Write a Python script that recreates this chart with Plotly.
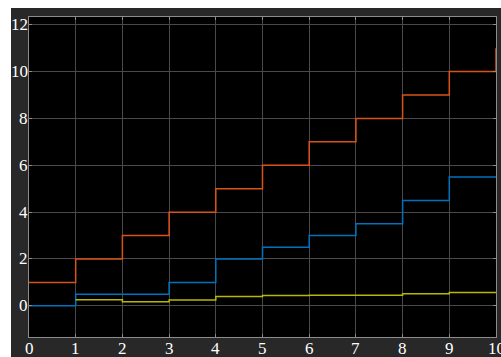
import plotly.graph_objects as go

x = list(range(11))
red_vals = [1, 2, 3, 4, 5, 6, 7, 8, 9, 10, 11]
blue_vals = [0, 0.5, 0.5, 1, 2, 2.5, 3, 3.5, 4.5, 5.5, 5.5]
yellow_vals = [None, 0.26, 0.18, 0.25, 0.4, 0.44, 0.45, 0.45, 0.52, 0.57, 0.57]
x_ticks = list(range(11))
y_ticks = [0, 2, 4, 6, 8, 10, 12]

W, H = 501, 357
L, R, T, B = 29, 5, 17, 20
pw, ph = W - L - R, H - T - B
label_font = dict(family="Liberation Serif", size=17, color="#ffffff")

fig = go.Figure()
fig.add_trace(go.Scatter(x=x, y=red_vals, mode="lines", line=dict(shape="hv", color="#D95319", width=1.5)))
fig.add_trace(go.Scatter(x=x, y=blue_vals, mode="lines", line=dict(shape="hv", color="#0072BD", width=1.5)))
fig.add_trace(go.Scatter(x=x, y=yellow_vals, mode="lines", line=dict(shape="hv", color="#B8B800", width=1.5)))

axis_common = dict(
    showgrid=True, gridcolor="#4a4a4a", gridwidth=1, zeroline=False,
    showline=True, linecolor="#8c8c8c", linewidth=1, mirror="ticks",
    ticks="inside", ticklen=3, tickcolor="#8c8c8c",
    showticklabels=False, automargin=False,
)

annotations = []
for t in x_ticks:
    annotations.append(dict(x=t, xref="x", y=0, yref="paper", yanchor="top", xanchor="center",
                            yshift=0, text=str(t), showarrow=False, font=label_font))
for t in y_ticks:
    annotations.append(dict(x=0, xref="paper", y=t, yref="y", xanchor="right", yanchor="middle",
                            xshift=1, text=str(t), showarrow=False, font=label_font))

fig.update_layout(
    width=W, height=H,
    margin=dict(l=L, r=R, t=T, b=B, pad=0, autoexpand=False),
    paper_bgcolor="#282828", plot_bgcolor="#000000",
    showlegend=False,
    xaxis=dict(range=[0, 10], tickvals=x_ticks, **axis_common),
    yaxis=dict(range=[-1.33, 12.33], tickvals=y_ticks, **axis_common),
    annotations=annotations,
    shapes=[
        dict(type="rect", xref="paper", yref="paper", layer="below",
             x0=-L / pw, x1=(11 - L) / pw, y0=-B / ph - 0.01, y1=1 + T / ph + 0.01,
             fillcolor="#ffffff", line=dict(width=0)),
        dict(type="rect", xref="paper", yref="paper", layer="below",
             x0=-L / pw, x1=1 + R / pw + 0.01, y0=1 + (T - 8) / ph, y1=1 + T / ph + 0.01,
             fillcolor="#ffffff", line=dict(width=0)),
    ],
)

fig.write_html("out.html")
